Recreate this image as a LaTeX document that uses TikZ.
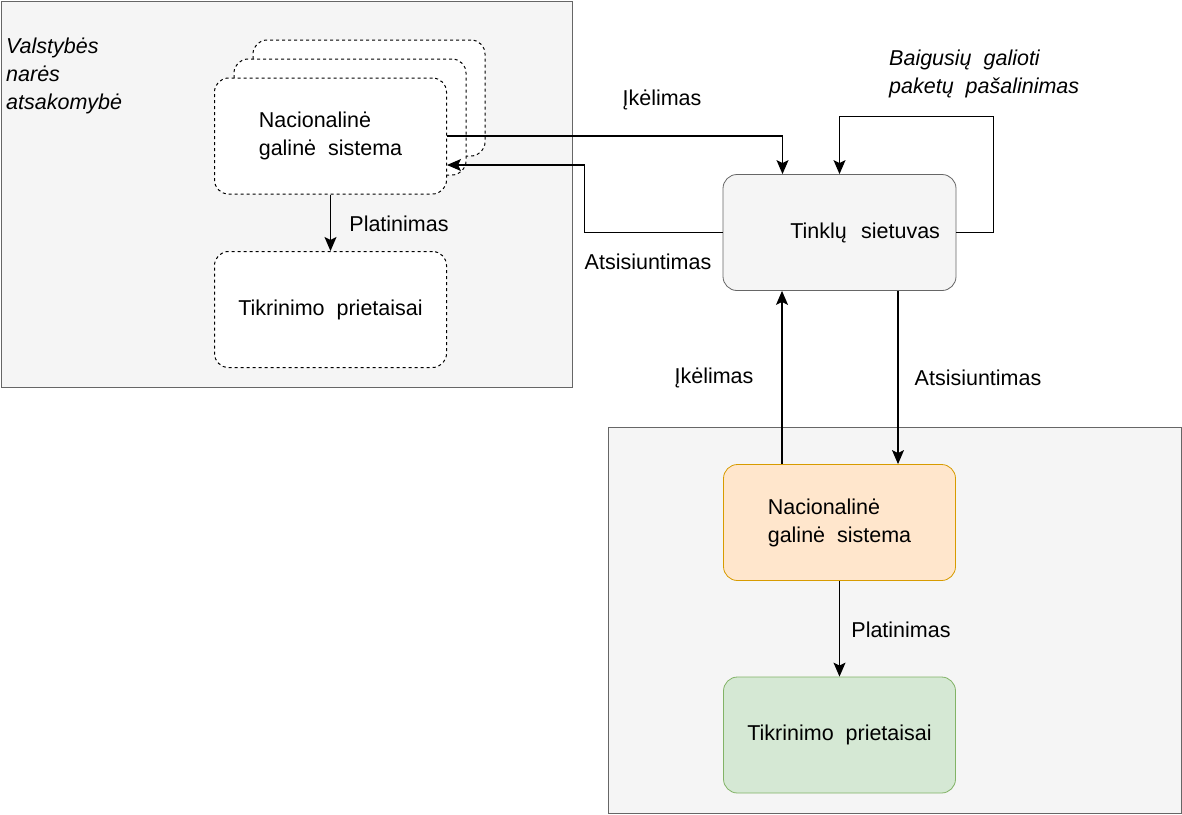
\documentclass[tikz,border=0pt]{standalone}
\usepackage{fontspec}
\setmainfont{Liberation Sans}
\usetikzlibrary{arrows.meta,calc}
\definecolor{panelfill}{HTML}{F5F5F5}
\definecolor{panelline}{HTML}{666666}
\definecolor{orangefill}{HTML}{FFE6CC}
\definecolor{orangeline}{HTML}{D79B00}
\definecolor{greenfill}{HTML}{D5E8D4}
\definecolor{greenline}{HTML}{82B366}

\begin{document}
\begin{tikzpicture}[x=1pt, y=-1pt, >={Stealth[length=14pt,width=12pt,inset=3pt]},
  every node/.style={font=\fontsize{21.5}{28}\selectfont},
  panel/.style={draw=panelline, fill=panelfill, line width=0.8pt},
  block/.style={rounded corners=14pt, minimum width=232pt, minimum height=116pt,
    inner sep=0pt, align=left, line width=0.8pt},
  dashedblock/.style={block, draw=black, fill=white, line width=1pt,
    dash pattern=on 3pt off 3pt},
  flow/.style={->, line width=1.2pt},
  lbl/.style={inner sep=0pt}]
  \useasboundingbox (0,0) rectangle (1182,814);

  % member state panels
  \draw[panel] (1,1) rectangle (572,387);
  \draw[panel] (608,427) rectangle (1181,813);
  \node[lbl, anchor=west, align=left, font=\fontsize{21.5}{28}\selectfont\itshape]
    (resp) at (6,76) {Valstybės\\narės\\atsakomybė};

  % stacked national back-ends (left)
  \node[dashedblock] (ngsC) at (369,98) {};
  \node[dashedblock] (ngsM) at (350,117) {};
  \node[dashedblock] (ngsL) at (330.5,136) {Nacionalinė\\galinė~ sistema};
  \node[dashedblock] (tikL) at (330.5,309.5) {Tikrinimo~ prietaisai};

  % gateway
  \node[block, draw=panelline, fill=panelfill, text width=201pt, align=right,
    inner xsep=16pt] (siet) at (839.5,232.5) {Tinklų~ sietuvas};

  % national back-end (right)
  \node[block, draw=orangeline, fill=orangefill] (ngsB) at (839.5,522.5)
    {Nacionalinė\\galinė~ sistema};
  \node[block, draw=greenline, fill=greenfill] (tikB) at (839.5,735)
    {Tikrinimo~ prietaisai};

  % connectors
  \draw[flow] (ngsL.east) -| ([xshift=-57pt]siet.north);
  \draw[flow] (siet.west) -- ++(-138,0) |- ($(ngsL.east)+(0,29)$);
  \draw[flow] (siet.east) -- ++(37,0) |- ($(siet.north)+(0,-58)$) -- (siet.north);
  \draw[flow] (ngsL.south) -- (tikL.north);
  \draw[flow] ([xshift=-57.5pt]ngsB.north) -- ([xshift=-57.5pt]siet.south);
  \draw[flow] ([xshift=58.5pt]siet.south) -- ([xshift=58.5pt]ngsB.north);
  \draw[flow] (ngsB.south) -- (tikB.north);

  % labels
  \node[lbl] (ikelTop) at (662,100) {Įkėlimas};
  \node[lbl] (atsTop) at (648,262) {Atsisiuntimas};
  \node[lbl, anchor=west, align=left, font=\fontsize{21.5}{28}\selectfont\itshape]
    (purge) at (889,74) {Baigusių~ galioti\\paketų~ pašalinimas};
  \node[lbl] (platL) at (399,224) {Platinimas};
  \node[lbl] (ikelBot) at (714,378) {Įkėlimas};
  \node[lbl] (atsBot) at (978,378) {Atsisiuntimas};
  \node[lbl] (platB) at (901,630) {Platinimas};
\end{tikzpicture}
\end{document}
